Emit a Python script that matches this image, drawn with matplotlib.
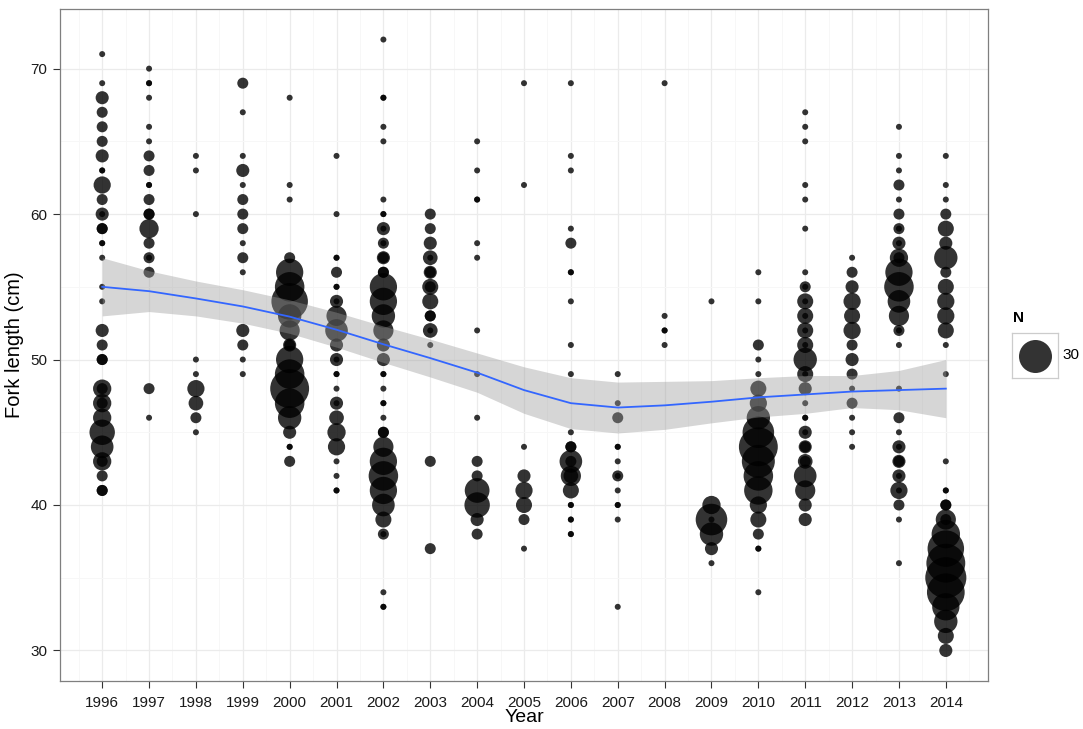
import numpy as np
import matplotlib
matplotlib.use("Agg")
import matplotlib.pyplot as plt

plt.rcParams['font.family'] = ['Liberation Sans', 'DejaVu Sans']

# (fork length cm, N) read per year; repeated entries are overlapping points
pts_1996 = [(71, 1), (69, 1), (68, 3), (67, 2), (66, 2), (65, 2), (64, 3), (63, 1), (63, 1),
            (62, 6), (61, 2), (60, 3), (60, 1), (59, 2), (59, 2), (58, 1), (58, 1), (57, 1),
            (55, 1), (54, 1), (52, 3), (51, 2), (50, 2), (50, 2), (48, 7), (48, 2), (47, 7),
            (47, 2), (46, 7), (45, 16), (44, 12), (43, 7), (43, 2), (42, 2), (41, 2), (41, 2)]
pts_1997 = [(70, 1), (69, 1), (69, 1), (68, 1), (66, 1), (65, 1), (64, 2), (63, 2), (62, 1),
            (62, 1), (61, 2), (60, 2), (60, 2), (59, 8), (58, 2), (57, 2), (57, 1), (56, 2),
            (48, 2), (46, 1)]
pts_1998 = [(64, 1), (63, 1), (60, 1), (50, 1), (49, 1), (48, 6), (47, 4), (46, 2), (45, 1)]
pts_1999 = [(69, 2), (67, 1), (64, 1), (63, 3), (62, 1), (61, 2), (60, 2), (59, 2), (58, 1),
            (57, 2), (56, 1), (52, 3), (51, 2), (50, 1), (49, 1)]
pts_2000 = [(68, 1), (62, 1), (61, 1), (57, 2), (56, 19), (55, 23), (54, 38), (53, 13), (52, 9),
            (51, 3), (51, 2), (50, 19), (49, 23), (48, 44), (47, 23), (46, 13), (45, 3),
            (44, 1), (44, 1), (43, 2)]
pts_2001 = [(64, 1), (60, 1), (57, 1), (57, 1), (56, 2), (55, 1), (55, 1), (54, 3), (54, 1),
            (53, 9), (52, 12), (51, 3), (50, 3), (50, 1), (49, 1), (49, 1), (48, 1), (47, 3),
            (47, 1), (46, 4), (45, 7), (44, 6), (43, 1), (42, 1), (41, 1), (41, 1)]
pts_2002 = [(72, 1), (68, 1), (68, 1), (66, 1), (65, 1), (61, 1), (60, 1), (60, 1), (59, 3),
            (59, 1), (58, 2), (58, 1), (57, 3), (57, 2), (56, 2), (56, 2), (55, 19), (54, 19),
            (53, 13), (52, 9), (51, 3), (50, 3), (49, 1), (49, 1), (48, 1), (47, 1), (47, 1),
            (46, 1), (45, 2), (45, 2), (44, 9), (43, 19), (42, 23), (41, 19), (40, 12),
            (39, 5), (38, 2), (38, 1), (34, 1), (33, 1), (33, 1)]
pts_2003 = [(60, 2), (59, 2), (58, 3), (57, 4), (57, 1), (56, 3), (56, 2), (55, 5), (55, 2),
            (54, 5), (53, 2), (53, 2), (52, 4), (52, 1), (51, 1), (43, 2), (37, 2)]
pts_2004 = [(65, 1), (63, 1), (61, 1), (61, 1), (58, 1), (57, 1), (52, 1), (49, 1), (46, 1),
            (43, 2), (42, 2), (41, 15), (40, 16), (39, 3), (38, 2)]
pts_2005 = [(69, 1), (62, 1), (44, 1), (42, 3), (41, 6), (40, 5), (39, 2), (37, 1)]
pts_2006 = [(69, 1), (64, 1), (63, 1), (59, 1), (58, 2), (56, 1), (56, 1), (54, 1), (51, 1),
            (49, 1), (45, 1), (44, 2), (44, 2), (43, 12), (43, 2), (42, 9), (42, 4), (41, 5),
            (40, 1), (40, 1), (39, 1), (39, 1), (38, 1), (38, 1)]
pts_2007 = [(49, 1), (47, 1), (46, 2), (44, 1), (44, 1), (43, 1), (42, 2), (42, 1), (41, 1),
            (40, 1), (40, 1), (39, 1), (33, 1)]
pts_2008 = [(69, 1), (53, 1), (52, 1), (52, 1), (51, 1)]
pts_2009 = [(54, 1), (40, 7), (39, 27), (39, 1), (38, 13), (37, 3), (36, 1)]
pts_2010 = [(56, 1), (54, 1), (51, 2), (50, 1), (49, 1), (48, 5), (47, 6), (46, 13), (45, 27),
            (44, 44), (43, 30), (42, 23), (41, 21), (40, 6), (39, 5), (38, 2), (37, 1),
            (37, 1), (34, 1)]
pts_2011 = [(67, 1), (66, 1), (65, 1), (62, 1), (61, 1), (59, 1), (56, 1), (55, 2), (55, 1),
            (54, 5), (54, 1), (53, 5), (53, 1), (52, 5), (52, 1), (51, 5), (51, 1), (50, 13),
            (49, 5), (49, 1), (48, 3), (47, 1), (46, 1), (46, 1), (45, 3), (45, 1), (44, 3),
            (44, 2), (43, 4), (43, 2), (42, 12), (41, 9), (40, 3), (39, 3)]
pts_2012 = [(57, 1), (56, 2), (55, 3), (54, 6), (53, 5), (52, 6), (51, 2), (50, 3), (49, 2),
            (48, 1), (47, 2), (46, 1), (45, 1), (44, 1)]
pts_2013 = [(66, 1), (64, 1), (63, 1), (62, 2), (61, 1), (60, 2), (59, 2), (59, 1), (58, 3),
            (58, 1), (57, 7), (57, 2), (56, 19), (55, 23), (54, 12), (53, 9), (52, 2), (52, 1),
            (51, 1), (48, 1), (46, 2), (45, 1), (44, 3), (44, 1), (43, 3), (43, 2), (42, 3),
            (42, 1), (41, 6), (41, 1), (40, 2), (39, 1), (36, 1)]
pts_2014 = [(64, 1), (62, 1), (61, 1), (60, 2), (59, 5), (58, 3), (57, 13), (56, 2), (55, 5),
            (54, 6), (53, 6), (52, 5), (51, 1), (49, 1), (43, 1), (41, 1), (41, 1), (40, 2),
            (40, 2), (39, 9), (39, 2), (38, 21), (37, 38), (36, 44), (35, 50), (34, 41),
            (33, 19), (32, 13), (31, 5), (30, 3)]

years = list(range(1996, 2015))
points = [pts_1996, pts_1997, pts_1998, pts_1999, pts_2000, pts_2001, pts_2002, pts_2003,
          pts_2004, pts_2005, pts_2006, pts_2007, pts_2008, pts_2009, pts_2010, pts_2011,
          pts_2012, pts_2013, pts_2014]

# loess fit and its confidence band, read at each year
smooth_fit = [55.0, 54.7, 54.2, 53.65, 52.95, 52.05, 51.05, 50.1, 49.1, 47.9, 47.0, 46.7,
              46.85, 47.1, 47.4, 47.6, 47.8, 47.9, 48.0]
smooth_hi = [57.0, 56.1, 55.4, 54.8, 54.1, 53.25, 52.3, 51.4, 50.45, 49.5, 48.75, 48.45,
             48.5, 48.55, 48.75, 48.9, 48.9, 49.25, 50.0]
smooth_lo = [53.0, 53.3, 53.0, 52.5, 51.8, 50.85, 49.8, 48.8, 47.75, 46.3, 45.25, 44.95,
             45.2, 45.65, 46.05, 46.3, 46.7, 46.55, 46.0]

legend_n = 30


def marker_area(n):
    d_px = 6 + 27 * np.sqrt((np.asarray(n) - 1) / 29.0)
    return (d_px * 0.72) ** 2


xs, ys, ns = [], [], []
for yr, plist in zip(years, points):
    for length, n in plist:
        xs.append(yr)
        ys.append(length)
        ns.append(n)

fig = plt.figure(figsize=(10.83, 7.29), dpi=100)
ax = fig.add_axes([60 / 1083, 48 / 729, 928 / 1083, 672 / 729])

ax.scatter(xs, ys, s=marker_area(ns), c='black', alpha=0.8, linewidths=0, zorder=3)
ax.fill_between(years, smooth_lo, smooth_hi, color='#999999', alpha=0.4, linewidth=0, zorder=4)
ax.plot(years, smooth_fit, color='#3366FF', lw=1.3, zorder=5)

ax.set_xlim(1995.1, 2014.9)
ax.set_ylim(27.9, 74.1)
ax.set_xticks(years)
ax.set_xticks(np.arange(1995.5, 2015, 1.0), minor=True)
ax.set_yticks([30, 40, 50, 60, 70])
ax.set_yticks([35, 45, 55, 65], minor=True)
ax.grid(which='major', color='#EBEBEB', lw=0.9, zorder=0)
ax.grid(which='minor', color='#F7F7F7', lw=0.7, zorder=0)
ax.set_axisbelow(True)
ax.tick_params(which='major', length=5, width=0.8, color='#333333', labelsize=11,
               labelcolor='#1a1a1a', pad=4)
ax.tick_params(axis='x', which='major', pad=6)
ax.tick_params(which='minor', length=0)
for sp in ax.spines.values():
    sp.set_color('#7F7F7F')
    sp.set_linewidth(0.9)

ax.set_xlabel('Year', fontsize=14, labelpad=-1)
ax.set_ylabel('Fork length (cm)', fontsize=14.5, labelpad=5)

# legend for size
fig.text(1013 / 1083, 1 - 318 / 729, 'N', fontsize=11, fontweight='bold', va='center', ha='left')
lax = fig.add_axes([1012 / 1083, 1 - 378 / 729, 46 / 1083, 45 / 729])
lax.scatter([0], [0], s=marker_area(legend_n), c='black', alpha=0.8, linewidths=0)
lax.set_xlim(-1, 1)
lax.set_ylim(-1, 1)
lax.set_xticks([])
lax.set_yticks([])
for sp in lax.spines.values():
    sp.set_color('#CCCCCC')
    sp.set_linewidth(0.9)
fig.text(1062 / 1083, 1 - 355 / 729, str(legend_n), fontsize=11, va='center', ha='left')

fig.savefig('out.png', dpi=100)
